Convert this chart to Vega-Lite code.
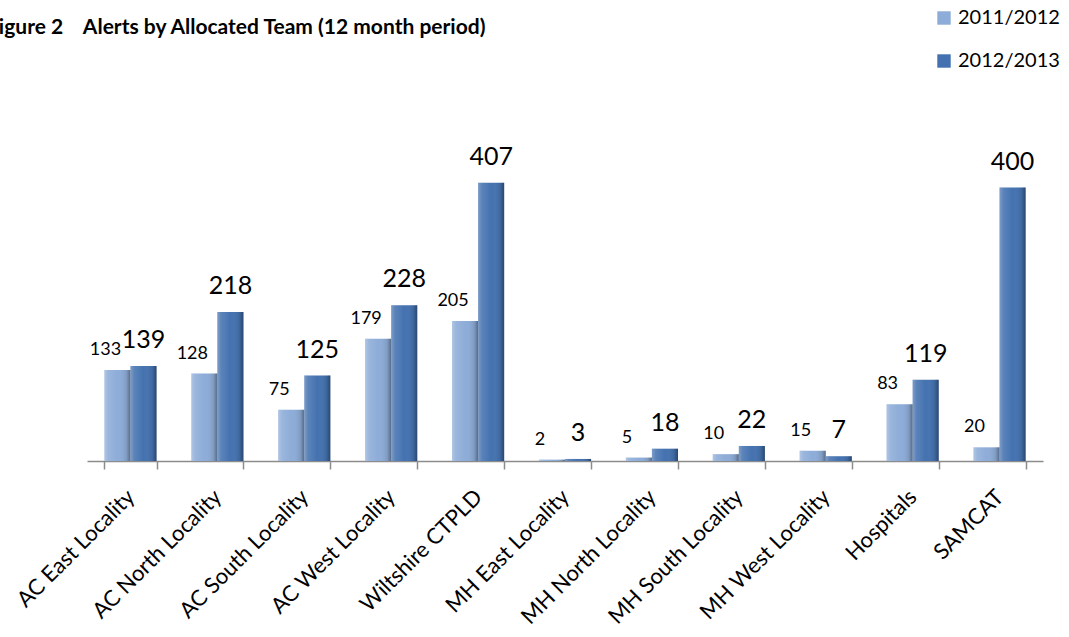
{
  "$schema": "https://vega.github.io/schema/vega-lite/v6.json",
  "width": 956,
  "height": 311,
  "autosize": "none",
  "padding": {"left": 87, "top": 150, "right": 26, "bottom": 176},
  "background": "white",
  "title": {
    "text": "Figure 2\u00a0\u00a0\u00a0 Alerts by Allocated Team (12 month period)",
    "anchor": "start",
    "frame": "group",
    "font": "Lato",
    "fontSize": 21,
    "fontWeight": "bold",
    "color": "black",
    "dx": -100,
    "offset": -47,
    "baseline": "alphabetic"
  },
  "config": {"view": {"stroke": null}},
  "data": {
    "values": [
      {"team": "AC East Locality", "series": "2011/2012", "alerts": 133},
      {"team": "AC East Locality", "series": "2012/2013", "alerts": 139},
      {"team": "AC North Locality", "series": "2011/2012", "alerts": 128},
      {"team": "AC North Locality", "series": "2012/2013", "alerts": 218},
      {"team": "AC South Locality", "series": "2011/2012", "alerts": 75},
      {"team": "AC South Locality", "series": "2012/2013", "alerts": 125},
      {"team": "AC West Locality", "series": "2011/2012", "alerts": 179},
      {"team": "AC West Locality", "series": "2012/2013", "alerts": 228},
      {"team": "Wiltshire CTPLD", "series": "2011/2012", "alerts": 205},
      {"team": "Wiltshire CTPLD", "series": "2012/2013", "alerts": 407},
      {"team": "MH East Locality", "series": "2011/2012", "alerts": 2},
      {"team": "MH East Locality", "series": "2012/2013", "alerts": 3},
      {"team": "MH North Locality", "series": "2011/2012", "alerts": 5},
      {"team": "MH North Locality", "series": "2012/2013", "alerts": 18},
      {"team": "MH South Locality", "series": "2011/2012", "alerts": 10},
      {"team": "MH South Locality", "series": "2012/2013", "alerts": 22},
      {"team": "MH West Locality", "series": "2011/2012", "alerts": 15},
      {"team": "MH West Locality", "series": "2012/2013", "alerts": 7},
      {"team": "Hospitals", "series": "2011/2012", "alerts": 83},
      {"team": "Hospitals", "series": "2012/2013", "alerts": 119},
      {"team": "SAMCAT", "series": "2011/2012", "alerts": 20},
      {"team": "SAMCAT", "series": "2012/2013", "alerts": 400}
    ]
  },
  "encoding": {
    "x": {
      "field": "team",
      "type": "nominal",
      "sort": null,
      "scale": {"paddingInner": 0.4, "paddingOuter": 0.2},
      "axis": {
        "title": null,
        "labelAngle": -45,
        "labelAlign": "right",
        "labelBaseline": "middle",
        "labelFont": "Lato",
        "labelFontSize": 22,
        "labelColor": "black",
        "labelPadding": 24,
        "labelLimit": 0,
        "labelOverlap": false,
        "tickBand": "extent",
        "tickSize": 8,
        "tickColor": "#8c8c8c",
        "domainColor": "#8c8c8c",
        "domainWidth": 1.5,
        "tickWidth": 1.5
      }
    },
    "xOffset": {"field": "series", "type": "nominal", "scale": {"paddingInner": 0}},
    "y": {
      "field": "alerts",
      "type": "quantitative",
      "scale": {"domain": [0, 455], "nice": false},
      "axis": null
    }
  },
  "layer": [
    {
      "mark": {"type": "bar"},
      "encoding": {
        "color": {
          "field": "series",
          "type": "nominal",
          "scale": {"domain": ["2011/2012", "2012/2013"], "range": ["#8DACD8", "#4472B0"]},
          "legend": {
            "title": null,
            "orient": "none",
            "legendX": 847,
            "legendY": -142,
            "symbolType": "square",
            "symbolSize": 180,
            "symbolStrokeWidth": 0,
            "labelFont": "Lato",
            "labelFontSize": 20,
            "labelColor": "black",
            "rowPadding": 23,
            "labelOffset": 4
          }
        }
      }
    },
    {
      "mark": {
        "type": "bar",
        "fill": {
          "gradient": "linear",
          "x1": 0, "y1": 0, "x2": 1, "y2": 0,
          "stops": [
            {"offset": 0, "color": "rgba(255,255,255,0.3)"},
            {"offset": 0.15, "color": "rgba(255,255,255,0.12)"},
            {"offset": 0.5, "color": "rgba(255,255,255,0)"},
            {"offset": 0.85, "color": "rgba(0,0,0,0.1)"},
            {"offset": 1, "color": "rgba(0,0,0,0.38)"}
          ]
        }
      }
    },
    {
      "transform": [{"filter": "datum.series === '2011/2012'"}],
      "mark": {"type": "text", "font": "Lato", "fontSize": 18, "color": "black", "dy": -20, "dx": -12, "baseline": "middle"},
      "encoding": {"text": {"field": "alerts", "type": "quantitative"}}
    },
    {
      "transform": [{"filter": "datum.series === '2012/2013'"}],
      "mark": {"type": "text", "font": "Lato", "fontSize": 25, "color": "black", "dy": -26, "baseline": "middle"},
      "encoding": {"text": {"field": "alerts", "type": "quantitative"}}
    }
  ]
}
